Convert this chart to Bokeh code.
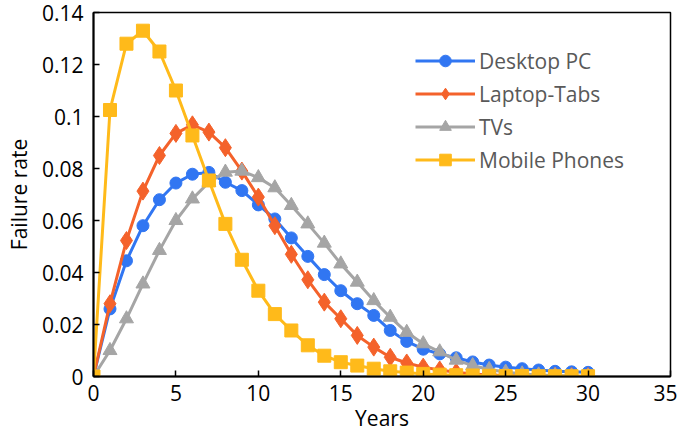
from bokeh.plotting import figure
from bokeh.models import FixedTicker, CustomJSTickFormatter, Legend, LegendItem, Range1d
from bokeh.embed import file_html
from bokeh.resources import INLINE

years = list(range(0, 31))
desktop_pc = [0, 0.026, 0.0445, 0.058, 0.068, 0.0744, 0.0778, 0.0785, 0.0747, 0.0715,
              0.066, 0.0606, 0.0533, 0.0462, 0.0392, 0.033, 0.028, 0.0235, 0.0177, 0.0135,
              0.0105, 0.0087, 0.0072, 0.0056, 0.0044, 0.0036, 0.003, 0.0025, 0.002, 0.0018, 0.0016]
laptop_tabs = [0, 0.028, 0.0523, 0.0713, 0.085, 0.0935, 0.0968, 0.094, 0.088, 0.079,
               0.069, 0.058, 0.047, 0.0372, 0.0286, 0.0222, 0.0158, 0.0113, 0.0074, 0.0052,
               0.0036, 0.0025, 0.0016, 0.001, 0.0006, 0.0004, 0.0002, 0.0001, 0.0001, 0, 0]
tvs = [0, 0.010, 0.0222, 0.0356, 0.0485, 0.060, 0.0683, 0.0747, 0.0786, 0.079,
       0.0765, 0.0726, 0.0658, 0.0587, 0.0513, 0.0433, 0.0363, 0.0292, 0.0228, 0.017,
       0.0126, 0.0095, 0.0063, 0.0042, 0.0027, 0.0017, 0.001, 0.0006, 0.0004, 0.0002, 0.0001]
mobile_phones = [0, 0.1025, 0.128, 0.133, 0.125, 0.110, 0.0927, 0.0754, 0.0587, 0.0449,
                 0.033, 0.024, 0.0177, 0.012, 0.008, 0.0055, 0.0042, 0.003, 0.002, 0.0015,
                 0.001, 0.0007, 0.0005, 0.0004, 0.0003, 0.0002, 0.0002, 0.0001, 0.0001, 0.0001, 0.0001]

x_ticks = [0, 5, 10, 15, 20, 25, 30, 35]
y_ticks = [0, 0.02, 0.04, 0.06, 0.08, 0.1, 0.12, 0.14]

FONT = "Open Sans"
TEXT = "#000000"
FS = "21px"

p = figure(width=677, height=437, output_backend="svg", toolbar_location=None,
           x_range=Range1d(0, 35), y_range=Range1d(0, 0.14),
           min_border_left=93, min_border_right=7, min_border_top=12, min_border_bottom=61)
p.background_fill_color = "white"
p.border_fill_color = "white"
p.outline_line_color = "black"
p.outline_line_width = 1.5
p.xgrid.visible = False
p.ygrid.visible = False

for ax in (p.xaxis[0], p.yaxis[0]):
    ax.axis_line_color = "black"
    ax.axis_line_width = 2
    ax.major_tick_in = 6
    ax.major_tick_out = 0
    ax.major_tick_line_color = "black"
    ax.major_tick_line_width = 1.5
    ax.minor_tick_line_color = None
    ax.major_label_text_font = FONT
    ax.major_label_text_font_size = FS
    ax.major_label_text_color = TEXT
    ax.axis_label_text_font = FONT
    ax.axis_label_text_font_size = FS
    ax.axis_label_text_font_style = "normal"
    ax.axis_label_text_color = TEXT

p.xaxis.ticker = FixedTicker(ticks=x_ticks)
p.yaxis.ticker = FixedTicker(ticks=y_ticks)
p.yaxis.formatter = CustomJSTickFormatter(code="return String(Math.round(tick*100)/100);")
p.xaxis.axis_label = "Years"
p.yaxis.axis_label = "Failure rate"
p.xaxis.major_label_standoff = 8
p.yaxis.major_label_standoff = 10
p.xaxis.axis_label_standoff = 0
p.yaxis.axis_label_standoff = 6

series = [
    ("Desktop PC", desktop_pc, "#3176F2", "circle", 12),
    ("Laptop-Tabs", laptop_tabs, "#F4622B", "diamond", 18),
    ("TVs", tvs, "#A5A5A5", "triangle", 14),
    ("Mobile Phones", mobile_phones, "#FFBA1A", "square", 13),
]

items = []
for name, vals, color, marker, size in series:
    ln = p.line(years, vals, line_color=color, line_width=3)
    sc = p.scatter(years, vals, marker=marker, size=size, fill_color=color, line_color=color)
    items.append(LegendItem(label=name, renderers=[ln, sc]))

legend = Legend(items=items, location=(320, 200))
legend.background_fill_alpha = 0
legend.border_line_alpha = 0
legend.label_text_font = FONT
legend.label_text_font_size = FS
legend.label_text_color = "#595959"
legend.glyph_width = 60
legend.glyph_height = 29
legend.label_height = 29
legend.spacing = 4
legend.label_standoff = 4
legend.padding = 2
p.add_layout(legend, "center")

open("out.html", "w").write(file_html(p, INLINE))
